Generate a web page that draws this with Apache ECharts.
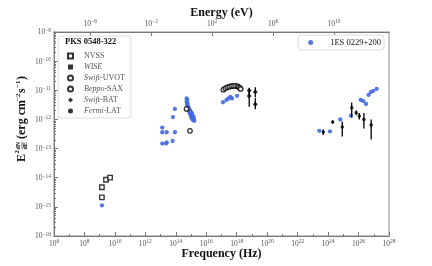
<!DOCTYPE html>
<html><head><meta charset="utf-8">
<script src="https://cdn.jsdelivr.net/npm/echarts@6/dist/echarts.min.js"></script>
<style>html,body{margin:0;padding:0;background:#fff}#c{width:432px;height:266px}</style>
</head><body><div id="c"></div>
<script>
// ---- tick values ----
const xTickValues = [1e6,1e8,1e10,1e12,1e14,1e16,1e18,1e20,1e22,1e24,1e26,1e28];
const xMinorTickValues = [1e7,1e9,1e11,1e13,1e15,1e17,1e19,1e21,1e23,1e25,1e27];
const yTickValues = [1e-16,1e-15,1e-14,1e-13,1e-12,1e-11,1e-10,1e-9];
const yMinorMantissas = [2,3,4,5,6,7,8,9];
const energyTickValues = [1e-6,1e-2,1e2,1e6,1e10];
const PLANCK_EV_S = 4.135667e-15;

// ---- 1ES 0229+200 (blue) ----
const blueNu = [1.41e9,
  1.29e13,1.29e13,2.51e13,8.71e13,8.71e13,6.46e13,1.29e13,2.29e13,2.51e13,6.17e13,
  5.13e14,5.62e14,5.13e14,5.89e14,5.62e14,6.61e14,6.92e14,8.51e14,7.76e14,1.05e15,9.33e14,1.15e15,1.26e15,1.05e15,1.41e15,1.55e15,1.26e15,1.62e15,8.91e14,1.20e15,1.48e15,6.31e14,7.94e14,1.0e15,1.32e15,
  1.26e17,2.14e17,2.88e17,3.89e17,4.90e17,1.05e18,
  2.63e23,1.32e24,6.31e24,3.16e25,1.38e26,2.04e26,3.09e26,4.57e26,6.46e26,9.33e26,1.55e27];
const blueF = [1.12e-15,
  5.25e-13,3.63e-13,3.63e-13,3.63e-13,2.29e-12,1.20e-12,1.48e-13,1.48e-13,1.62e-13,1.82e-13,
  5.25e-12,4.68e-12,4.07e-12,3.55e-12,3.09e-12,2.75e-12,2.40e-12,2.09e-12,1.86e-12,1.74e-12,1.48e-12,1.35e-12,1.20e-12,1.15e-12,1.10e-12,9.77e-13,9.77e-13,8.91e-13,1.95e-12,1.55e-12,1.23e-12,2.51e-12,1.66e-12,1.32e-12,1.05e-12,
  3.89e-12,4.68e-12,5.25e-12,5.89e-12,5.25e-12,6.46e-12,
  4.07e-13,3.89e-13,1.0e-12,1.35e-12,4.68e-12,4.27e-12,3.39e-12,6.92e-12,8.71e-12,9.55e-12,1.12e-11];

// ---- PKS 0548-322 (black) ----
const nvssNu = [1.4e9,1.4e9,2.6e9,4.8e9];
const nvssF  = [4.7e-15,2.1e-15,8.5e-15,1.0e-14];
const wiseNu = [];
const wiseF  = [];
const uvotNu = [5.1e14,8.5e14];
const uvotF  = [2.29e-12,4.07e-13];
const saxNu = [1.32e17,1.78e17,2.40e17,3.24e17,4.37e17,5.89e17,7.94e17,1.10e18,1.35e18,1.62e18,1.82e18];
const saxF  = [1.05e-11,1.17e-11,1.26e-11,1.32e-11,1.38e-11,1.41e-11,1.41e-11,1.38e-11,1.29e-11,1.20e-11,1.10e-11];
const batNu = [6.6e18,6.6e18,1.66e19,1.66e19];
const batF  = [9.77e-12,6.31e-12,8.71e-12,3.31e-12];
const batLo = [7.41e-12,2.75e-12,5.89e-12,2.24e-12];
const batHi = [1.23e-11,8.71e-12,1.26e-11,5.50e-12];
const latNu = [4.79e23,2.0e24,8.51e24,3.55e25,7.08e25,1.12e26,2.24e26,6.76e26];
const latF  = [3.72e-13,8.13e-13,5.50e-13,2.51e-12,1.70e-12,1.32e-12,1.0e-12,6.46e-13];
const latLo = [2.95e-13,7.24e-13,2.57e-13,1.17e-12,1.41e-12,1.0e-12,4.90e-13,2.04e-13];
const latHi = [4.47e-13,9.12e-13,8.51e-13,3.80e-12,2.04e-12,1.66e-12,1.66e-12,1.0e-12];

const legendNames = ['NVSS','WISE','Swift-UVOT','Beppo-SAX','Swift-BAT','Fermi-LAT'];
const legendLabels = {'NVSS':'NVSS','WISE':'{i|WISE}','Swift-UVOT':'{i|Swift}-UVOT','Beppo-SAX':'{i|Beppo}-SAX','Swift-BAT':'{i|Swift}-BAT','Fermi-LAT':'{i|Fermi}-LAT'};

const SERIF = '"Liberation Serif", "DejaVu Serif", serif';
const pairs = (a,b) => a.map((v,i)=>[v,b[i]]);
const triples = (a,b,c) => a.map((v,i)=>[v,b[i],c[i]]);
const yMinorTickValues = [];
yTickValues.slice(0,-1).forEach(d => yMinorMantissas.forEach(m => yMinorTickValues.push(d*m)));

function expLabel(v){
  const e = Math.round(Math.log10(v));
  return '{b|10}{s|' + (e<0 ? '\u2212'+(-e) : e) + '}';
}
const tickRich = {
  b:{fontFamily:SERIF,fontSize:7.5,color:'#555',lineHeight:9,verticalAlign:'bottom'},
  s:{fontFamily:SERIF,fontSize:5.5,color:'#555',lineHeight:9,verticalAlign:'top'}
};

function errRender(params, api){
  const a = api.coord([api.value(0), api.value(1)]);
  const b = api.coord([api.value(0), api.value(2)]);
  return {type:'line', shape:{x1:a[0],y1:a[1],x2:b[0],y2:b[1]}, style:{stroke:'#000',lineWidth:1.3}};
}

const openStyle = {color:'#fff', borderColor:'#000', borderWidth:1.3};
const chart = echarts.init(document.getElementById('c'), null, {renderer:'canvas'});
chart.setOption({
  animation:false,
  backgroundColor:'#fff',
  grid:{left:54, top:32, width:335, height:204, containLabel:false, outerBoundsMode:'none',
    show:true, borderColor:'#b4b4b4', borderWidth:1.5, backgroundColor:'transparent'},
  title:{text:'PKS 0548-322', left:65, top:37, padding:0, textStyle:{fontFamily:SERIF,fontSize:8.5,fontWeight:'bold',color:'#111'}},
  legend:[{
    data:legendNames, orient:'vertical', left:58, top:36, padding:[16,6,3,9],
    backgroundColor:'#fff', borderColor:'#ddd', borderWidth:1, borderRadius:3,
    itemWidth:5, itemHeight:5, itemGap:3,
    formatter: n => legendLabels[n],
    textStyle:{fontFamily:SERIF,fontSize:8,color:'#555',lineHeight:8,padding:[0,0,0,6],
      rich:{i:{fontFamily:SERIF,fontSize:8,color:'#555',fontStyle:'italic',lineHeight:8}}}
  },{
    data:['1ES 0229+200'], orient:'vertical', right:48, top:35, padding:[3,3,3,10],
    backgroundColor:'#fff', borderColor:'#ddd', borderWidth:1, borderRadius:3,
    itemWidth:5, itemHeight:5, itemGap:0,
    textStyle:{fontFamily:SERIF,fontSize:8.5,color:'#111',lineHeight:8,padding:[0,0,0,12]}
  }],
  xAxis:[{
    type:'log', logBase:10, min:1e6, max:1e28, position:'bottom',
    name:'Frequency (Hz)', nameLocation:'middle', nameGap:12, nameMoveOverlap:false,
    nameTextStyle:{fontFamily:SERIF,fontSize:12,fontWeight:'bold',color:'#111'},
    axisLine:{show:true,lineStyle:{color:'#777',width:1}},
    axisTick:{show:true,inside:true,length:4,customValues:xTickValues,lineStyle:{color:'#777'}},
    axisLabel:{customValues:xTickValues,formatter:expLabel,rich:tickRich,margin:3},
    splitLine:{show:false}
  },{
    type:'log', logBase:10, min:1e6*PLANCK_EV_S, max:1e28*PLANCK_EV_S, position:'top',
    name:'Energy (eV)', nameLocation:'middle', nameGap:13, nameMoveOverlap:false,
    nameTextStyle:{fontFamily:SERIF,fontSize:12,fontWeight:'bold',color:'#111'},
    axisLine:{show:true,lineStyle:{color:'#777',width:1}},
    axisTick:{show:true,inside:true,length:4,customValues:energyTickValues,lineStyle:{color:'#777'}},
    axisLabel:{customValues:energyTickValues,formatter:expLabel,rich:tickRich,margin:4},
    splitLine:{show:false}
  },{
    type:'log', logBase:10, min:1e6, max:1e28, position:'bottom',
    axisLine:{show:false}, axisLabel:{show:false}, splitLine:{show:false},
    axisTick:{show:true,inside:true,length:2,customValues:xMinorTickValues,lineStyle:{color:'#777'}}
  }],
  yAxis:[{
    type:'log', logBase:10, min:1e-16, max:1e-9, position:'left',
    axisLine:{show:true,lineStyle:{color:'#777',width:1}},
    axisTick:{show:true,inside:true,length:4,customValues:yTickValues,lineStyle:{color:'#777'}},
    axisLabel:{customValues:yTickValues,formatter:expLabel,rich:tickRich,margin:3},
    splitLine:{show:false}
  },{
    type:'log', logBase:10, min:1e-16, max:1e-9, position:'left',
    axisLine:{show:false}, axisLabel:{show:false}, splitLine:{show:false},
    axisTick:{show:true,inside:true,length:2,customValues:yMinorTickValues,lineStyle:{color:'#777'}}
  }],
  graphic:[{
    type:'group', x:22, y:162, rotation:Math.PI/2,
    children:[
      {type:'text', x:0, y:0, style:{text:'E', font:'bold 12px '+SERIF, fill:'#111', verticalAlign:'middle', align:'left'}},
      {type:'text', x:8.5, y:-4.5, style:{text:'2', font:'bold 6.5px '+SERIF, fill:'#111', verticalAlign:'middle', align:'left'}},
      {type:'text', x:12.5, y:-3.5, style:{text:'dN', font:'bold 6px '+SERIF, fill:'#111', verticalAlign:'middle', align:'left'}},
      {type:'line', shape:{x1:12.5,y1:0,x2:20.5,y2:0}, style:{stroke:'#111', lineWidth:0.6}},
      {type:'text', x:12.5, y:3.8, style:{text:'dE', font:'bold 6px '+SERIF, fill:'#111', verticalAlign:'middle', align:'left'}},
      {type:'text', x:23, y:0, style:{text:'(erg cm', font:'bold 12px '+SERIF, fill:'#111', verticalAlign:'middle', align:'left'}},
      {type:'text', x:61, y:-4, style:{text:'\u22122', font:'bold 7px '+SERIF, fill:'#111', verticalAlign:'middle', align:'left'}},
      {type:'text', x:69, y:0, style:{text:'s', font:'bold 12px '+SERIF, fill:'#111', verticalAlign:'middle', align:'left'}},
      {type:'text', x:74, y:-4, style:{text:'\u22121', font:'bold 7px '+SERIF, fill:'#111', verticalAlign:'middle', align:'left'}},
      {type:'text', x:82, y:0, style:{text:')', font:'bold 12px '+SERIF, fill:'#111', verticalAlign:'middle', align:'left'}}
    ]
  }],
  series:[
    {name:'1ES 0229+200', type:'scatter', data:pairs(blueNu,blueF), symbol:'circle', symbolSize:4.3, itemStyle:{color:'#4169e1',opacity:0.9}, z:2},
    {name:'NVSS', type:'scatter', data:pairs(nvssNu,nvssF), symbol:'rect', symbolSize:4.5, itemStyle:openStyle, z:4},
    {name:'WISE', type:'scatter', data:pairs(wiseNu,wiseF), symbol:'rect', symbolSize:4.5, itemStyle:{color:'#000'}, z:4},
    {name:'Swift-UVOT', type:'scatter', data:pairs(uvotNu,uvotF), symbol:'circle', symbolSize:4.5, itemStyle:openStyle, z:4},
    {name:'Beppo-SAX', type:'scatter', data:pairs(saxNu,saxF), symbol:'circle', symbolSize:4.5, itemStyle:openStyle, z:4},
    {name:'batErr', type:'custom', data:triples(batNu,batLo,batHi), encode:{x:0,y:[1,2]}, renderItem:errRender, z:3},
    {name:'Swift-BAT', type:'scatter', data:pairs(batNu,batF), symbol:'diamond', symbolSize:5, itemStyle:{color:'#000'}, z:4},
    {name:'latErr', type:'custom', data:triples(latNu,latLo,latHi), encode:{x:0,y:[1,2]}, renderItem:errRender, z:3},
    {name:'Fermi-LAT', type:'scatter', data:pairs(latNu,latF), symbol:'circle', symbolSize:3.5, itemStyle:{color:'#000'}, z:4}
  ]
});
</script></body></html>
